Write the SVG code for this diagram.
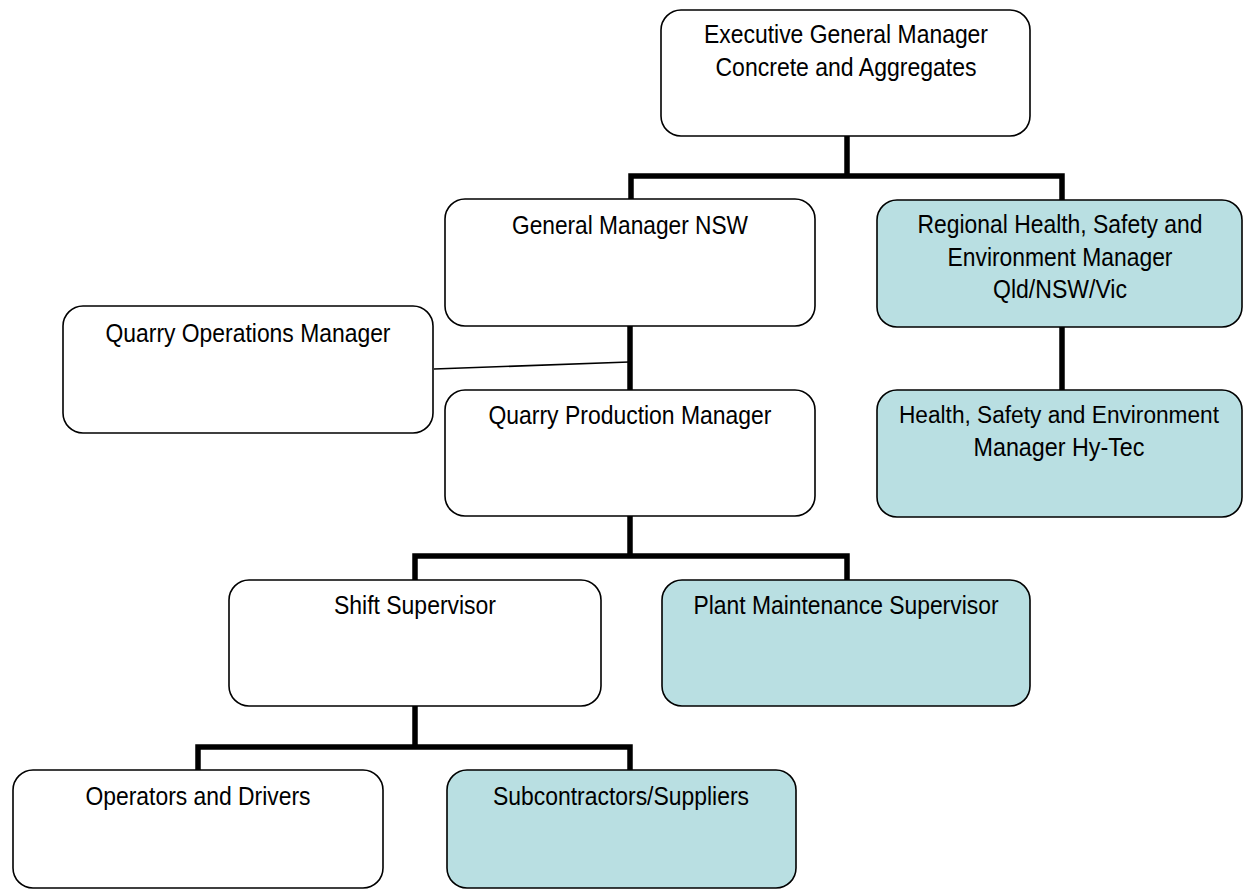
<svg xmlns="http://www.w3.org/2000/svg" width="1244" height="890" viewBox="0 0 1244 890">
<style>
.box{fill:#ffffff;stroke:#000;stroke-width:1.6}
.blue{fill:#B9DFE2;stroke:#000;stroke-width:1.6}
.t{font-family:"Liberation Sans",Arial,sans-serif;font-size:25.5px;fill:#000;text-anchor:middle}
.thick{fill:none;stroke:#000;stroke-width:5.5;stroke-linejoin:miter}
.thin{fill:none;stroke:#000;stroke-width:1.6}
</style>
<rect width="1244" height="890" fill="#ffffff"/>
<g id="connectors">
<path class="thick" d="M847,136 V176 M631,199 V176 H1062 V200"/>
<path class="thick" d="M1062,327 V390"/>
<path class="thick" d="M630,326 V390"/>
<path class="thin" d="M434,369 L629,362"/>
<path class="thick" d="M630,516 V556 M415,580 V556 H847 V580"/>
<path class="thick" d="M415,706 V747 M198,770 V747 H630 V770"/>
</g>
<g id="exec">
<rect class="box" x="661" y="10" width="369" height="126" rx="20"/>
<text class="t" x="846" y="43" textLength="284" lengthAdjust="spacingAndGlyphs">Executive General Manager</text>
<text class="t" x="846" y="76" textLength="261" lengthAdjust="spacingAndGlyphs">Concrete and Aggregates</text>
</g>
<g id="gm-nsw">
<rect class="box" x="445" y="199" width="370" height="127" rx="20"/>
<text class="t" x="630" y="234" textLength="236" lengthAdjust="spacingAndGlyphs">General Manager NSW</text>
</g>
<g id="regional-hse">
<rect class="blue" x="877" y="200" width="365" height="127" rx="20"/>
<text class="t" x="1060" y="233" textLength="285" lengthAdjust="spacingAndGlyphs">Regional Health, Safety and</text>
<text class="t" x="1060" y="266" textLength="225" lengthAdjust="spacingAndGlyphs">Environment Manager</text>
<text class="t" x="1060" y="298" textLength="134" lengthAdjust="spacingAndGlyphs">Qld/NSW/Vic</text>
</g>
<g id="quarry-ops">
<rect class="box" x="63" y="306" width="370" height="127" rx="20"/>
<text class="t" x="248" y="342" textLength="285" lengthAdjust="spacingAndGlyphs">Quarry Operations Manager</text>
</g>
<g id="quarry-prod">
<rect class="box" x="445" y="390" width="370" height="126" rx="20"/>
<text class="t" x="630" y="424" textLength="283" lengthAdjust="spacingAndGlyphs">Quarry Production Manager</text>
</g>
<g id="hse-hytec">
<rect class="blue" x="877" y="390" width="365" height="127" rx="20"/>
<text class="t" x="1059" y="423" style="font-size:23px" textLength="320" lengthAdjust="spacingAndGlyphs">Health, Safety and Environment</text>
<text class="t" x="1059" y="456" textLength="171" lengthAdjust="spacingAndGlyphs">Manager Hy-Tec</text>
</g>
<g id="shift-supervisor">
<rect class="box" x="229" y="580" width="372" height="126" rx="20"/>
<text class="t" x="415" y="614" textLength="162" lengthAdjust="spacingAndGlyphs">Shift Supervisor</text>
</g>
<g id="plant-maintenance">
<rect class="blue" x="662" y="580" width="368" height="126" rx="20"/>
<text class="t" x="846" y="614" textLength="305" lengthAdjust="spacingAndGlyphs">Plant Maintenance Supervisor</text>
</g>
<g id="operators">
<rect class="box" x="13" y="770" width="370" height="118" rx="20"/>
<text class="t" x="198" y="805" textLength="225" lengthAdjust="spacingAndGlyphs">Operators and Drivers</text>
</g>
<g id="subcontractors">
<rect class="blue" x="447" y="770" width="349" height="118" rx="20"/>
<text class="t" x="621" y="805" textLength="256" lengthAdjust="spacingAndGlyphs">Subcontractors/Suppliers</text>
</g>
</svg>
